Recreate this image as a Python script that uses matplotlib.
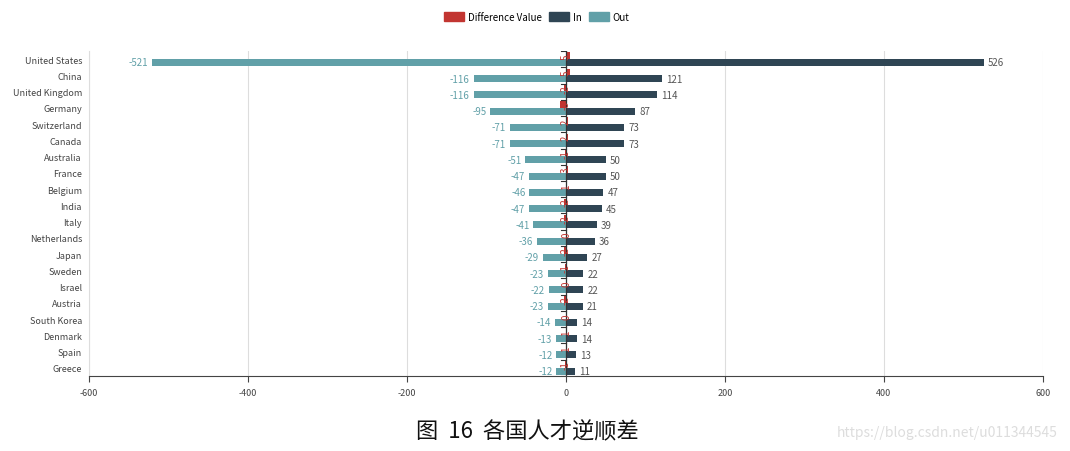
import matplotlib
matplotlib.use("Agg")
import matplotlib.pyplot as plt
from matplotlib.patches import Patch
import numpy as np

plt.rcParams['font.family'] = ['Noto Sans CJK SC', 'DejaVu Sans']

# data
countries = ["United States", "China", "United Kingdom", "Germany", "Switzerland",
             "Canada", "Australia", "France", "Belgium", "India", "Italy",
             "Netherlands", "Japan", "Sweden", "Israel", "Austria",
             "South Korea", "Denmark", "Spain", "Greece"]
in_vals = [526, 121, 114, 87, 73, 73, 50, 50, 47, 45, 39, 36, 27, 22, 22, 21, 14, 14, 13, 11]
out_vals = [-521, -116, -116, -95, -71, -71, -51, -47, -46, -47, -41, -36, -29, -23, -22, -23, -14, -13, -12, -12]
diff_vals = [5, 5, -2, -8, 2, 2, -1, 3, 1, -2, -2, 0, -2, -1, 0, -2, 0, 1, 1, -1]
xticks = [-600, -400, -200, 0, 200, 400, 600]

c_diff = '#c23531'
c_in = '#2f4554'
c_out = '#61a0a8'

fig = plt.figure(figsize=(10.7, 4.52), dpi=100)
ax = fig.add_axes([89 / 1070, 1 - 377 / 452, (1043 - 89) / 1070, (377 - 52) / 452])

y = np.arange(len(countries))
h = 0.43
off = 0.2

ax.barh(y - off, diff_vals, height=h, color=c_diff, zorder=3)
ax.barh(y + off, in_vals, height=h, color=c_in, zorder=3)
ax.barh(y + off, out_vals, height=h, color=c_out, zorder=3)

for i in range(len(countries)):
    ax.text(in_vals[i] + 5, y[i] + off, str(in_vals[i]), va='center', ha='left',
            fontsize=7, color='#555555', zorder=4)
    ax.text(out_vals[i] - 5, y[i] + off, str(out_vals[i]), va='center', ha='right',
            fontsize=7, color=c_out, zorder=4)
    ax.text(0, y[i] - off, str(diff_vals[i]), va='center', ha='center', rotation=90,
            fontsize=7, color=c_diff, zorder=6)

ax.set_xlim(-600, 600)
ax.set_ylim(len(countries) - 0.5, -0.5)
ax.set_xticks(xticks)
ax.set_xticklabels([str(v) for v in xticks], fontsize=6.5, color='#444444')
ax.set_yticks(y)
ax.set_yticklabels(countries, fontsize=6.5, color='#444444')
ax.tick_params(axis='y', length=0, pad=5)
ax.tick_params(axis='x', length=4, color='#444444', pad=5)

ax.grid(axis='x', color='#dddddd', linewidth=0.8, zorder=0)
ax.axvline(0, color='#333333', linewidth=0.9, zorder=5)
# small category ticks on the zero axis
for b in np.arange(len(countries) + 1) - 0.5:
    ax.plot([-6, 0], [b, b], color='#333333', linewidth=0.8, zorder=5)
for s in ['top', 'right']:
    ax.spines[s].set_visible(False)
ax.spines['left'].set_color('#dddddd')
ax.spines['bottom'].set_color('#444444')

handles = [Patch(color=c_diff, label='Difference Value'),
           Patch(color=c_in, label='In'),
           Patch(color=c_out, label='Out')]
fig.legend(handles=handles, loc='center', bbox_to_anchor=(537 / 1070, 1 - 18 / 452),
           ncol=3, frameon=False, fontsize=7, handlelength=2.0, handleheight=1.0,
           columnspacing=0.8, handletextpad=0.4)

fig.text(527 / 1070, 1 - 432 / 452, '图  16  各国人才逆顺差', ha='center', va='center',
         fontsize=16, color='#111111')
fig.text(947 / 1070, 1 - 433 / 452, 'https://blog.csdn.net/u011344545', ha='center',
         va='center', fontsize=10, color='#dddddd', fontstretch='condensed')

fig.savefig('out.png', dpi=100)
